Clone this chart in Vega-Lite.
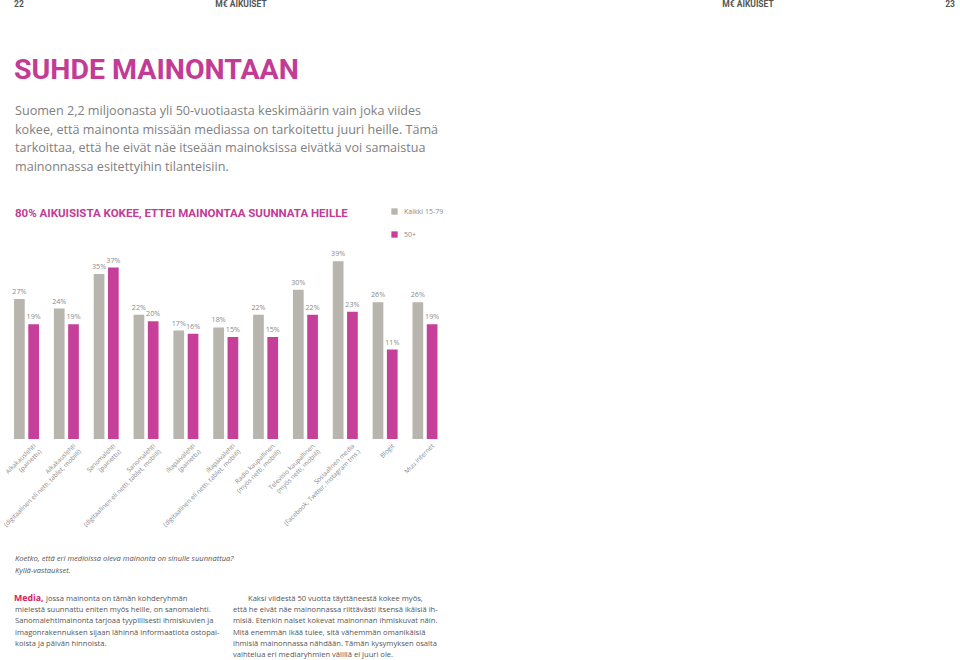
{
  "$schema": "https://vega.github.io/schema/vega-lite/v6.json",
  "width": 960,
  "height": 660,
  "padding": 0,
  "autosize": {"type": "none"},
  "background": "white",
  "config": {"view": {"stroke": null}},
  "datasets": {
    "media": [
      {"media": "Aikakauslehti\n(painettu)", "group": "Kaikki 15-79", "value": 27},
      {"media": "Aikakauslehti\n(painettu)", "group": "50+", "value": 19},
      {"media": "Aikakauslehti\n(digitaalinen eli netti, tablet, mobiili)", "group": "Kaikki 15-79", "value": 24},
      {"media": "Aikakauslehti\n(digitaalinen eli netti, tablet, mobiili)", "group": "50+", "value": 19},
      {"media": "Sanomalehti\n(painettu)", "group": "Kaikki 15-79", "value": 35},
      {"media": "Sanomalehti\n(painettu)", "group": "50+", "value": 37},
      {"media": "Sanomalehti\n(digitaalinen eli netti, tablet, mobiili)", "group": "Kaikki 15-79", "value": 22},
      {"media": "Sanomalehti\n(digitaalinen eli netti, tablet, mobiili)", "group": "50+", "value": 20},
      {"media": "Iltapäivälehti\n(painettu)", "group": "Kaikki 15-79", "value": 17},
      {"media": "Iltapäivälehti\n(painettu)", "group": "50+", "value": 16},
      {"media": "Iltapäivälehti\n(digitaalinen eli netti, tablet, mobiili)", "group": "Kaikki 15-79", "value": 18},
      {"media": "Iltapäivälehti\n(digitaalinen eli netti, tablet, mobiili)", "group": "50+", "value": 15},
      {"media": "Radio kaupallinen\n(myös netti, mobiili)", "group": "Kaikki 15-79", "value": 22},
      {"media": "Radio kaupallinen\n(myös netti, mobiili)", "group": "50+", "value": 15},
      {"media": "Televisio kaupallinen\n(myös netti, mobiili)", "group": "Kaikki 15-79", "value": 30},
      {"media": "Televisio kaupallinen\n(myös netti, mobiili)", "group": "50+", "value": 22},
      {"media": "Sosiaalinen media\n(Facebook, Twitter, Instagram tms.)", "group": "Kaikki 15-79", "value": 39},
      {"media": "Sosiaalinen media\n(Facebook, Twitter, Instagram tms.)", "group": "50+", "value": 23},
      {"media": "Blogit", "group": "Kaikki 15-79", "value": 26},
      {"media": "Blogit", "group": "50+", "value": 11},
      {"media": "Muu internet", "group": "Kaikki 15-79", "value": 26},
      {"media": "Muu internet", "group": "50+", "value": 19}
    ]
  },
  "layer": [
    {
      "data": {"name": "media"},
      "mark": {"type": "bar"},
      "encoding": {
        "x": {"field": "media", "type": "nominal", "sort": null, "axis": null,
              "scale": {"range": [6.6, 444.9], "paddingInner": 0.373, "paddingOuter": 0.1865}},
        "xOffset": {"field": "group", "type": "nominal", "sort": ["Kaikki 15-79", "50+"],
                    "scale": {"paddingInner": 0.25, "paddingOuter": 0}},
        "y": {"field": "value", "type": "quantitative", "axis": null,
              "scale": {"domain": [-17.4, 45], "range": [439, 242.4], "zero": false, "nice": false}},
        "y2": {"datum": -17.4},
        "color": {"field": "group", "type": "nominal",
                  "scale": {"domain": ["Kaikki 15-79", "50+"], "range": ["#b8b4ae", "#c6409a"]},
                  "legend": {"title": null, "orient": "none", "legendX": 391, "legendY": 208,
                             "symbolType": "square", "symbolSize": 40, "symbolStrokeWidth": 0,
                             "labelFontSize": 7, "labelColor": "#8a8a8a", "labelFont": "Open Sans",
                             "labelOffset": 6, "rowPadding": 15}}
      }
    },
    {
      "data": {"name": "media"},
      "transform": [{"calculate": "datum.value + '%'", "as": "label"}],
      "mark": {"type": "text", "dy": -5, "fontSize": 7.2, "font": "Open Sans", "color": "#8a8a8a", "baseline": "alphabetic"},
      "encoding": {
        "x": {"field": "media", "type": "nominal", "sort": null},
        "xOffset": {"field": "group", "type": "nominal", "sort": ["Kaikki 15-79", "50+"]},
        "y": {"field": "value", "type": "quantitative"},
        "text": {"field": "label"}
      }
    },
    {
      "data": {"name": "media"},
      "transform": [{"filter": "datum.group === 'Kaikki 15-79'"}],
      "mark": {"type": "text", "angle": -45, "align": "right", "baseline": "top", "lineBreak": "\n",
               "fontSize": 6.4, "font": "Open Sans", "color": "#8a8a8a", "dx": 1.5, "dy": 7, "lineHeight": 8},
      "encoding": {
        "x": {"field": "media", "type": "nominal", "sort": null},
        "y": {"datum": -17.4},
        "text": {"field": "media"}
      }
    },
    {
      "data": {"values": [{"t": "22"}]},
      "mark": {"type": "text", "x": 14, "y": 4, "align": "left", "baseline": "middle", "fontSize": 8.5, "fontWeight": "bold",
               "font": "Roboto", "color": "#555"},
      "encoding": {"text": {"field": "t"}}
    },
    {
      "data": {"values": [{"t": "M€ AIKUISET"}]},
      "mark": {"type": "text", "x": 241, "y": 4, "align": "center", "baseline": "middle", "fontSize": 8.5, "fontWeight": "bold",
               "font": "Roboto", "color": "#555"},
      "encoding": {"text": {"field": "t"}}
    },
    {
      "data": {"values": [{"t": "M€ AIKUISET"}]},
      "mark": {"type": "text", "x": 748, "y": 4, "align": "center", "baseline": "middle", "fontSize": 8.5, "fontWeight": "bold",
               "font": "Roboto", "color": "#555"},
      "encoding": {"text": {"field": "t"}}
    },
    {
      "data": {"values": [{"t": "23"}]},
      "mark": {"type": "text", "x": 955, "y": 4, "align": "right", "baseline": "middle", "fontSize": 8.5, "fontWeight": "bold",
               "font": "Roboto", "color": "#555"},
      "encoding": {"text": {"field": "t"}}
    },
    {
      "data": {"values": [{"t": "SUHDE MAINONTAAN"}]},
      "mark": {"type": "text", "x": 14, "y": 79, "align": "left", "baseline": "alphabetic", "fontSize": 28.5, "fontWeight": "bold",
               "font": "Roboto", "color": "#c23b95"},
      "encoding": {"text": {"field": "t"}}
    },
    {
      "data": {"values": [{"t": "Suomen 2,2 miljoonasta yli 50-vuotiaasta  keskimäärin vain joka viides\nkokee, että mainonta missään mediassa on tarkoitettu juuri heille. Tämä\ntarkoittaa, että he eivät näe itseään mainoksissa eivätkä voi samaistua\nmainonnassa esitettyihin tilanteisiin."}]},
      "mark": {"type": "text", "x": 15, "y": 115, "align": "left", "baseline": "alphabetic", "lineBreak": "\n", "lineHeight": 18.5,
               "fontSize": 12.6, "font": "Open Sans", "color": "#808080"},
      "encoding": {"text": {"field": "t"}}
    },
    {
      "data": {"values": [{"t": "80% AIKUISISTA KOKEE, ETTEI MAINONTAA SUUNNATA HEILLE"}]},
      "mark": {"type": "text", "x": 15, "y": 217, "align": "left", "baseline": "alphabetic", "fontSize": 11.5, "fontWeight": "bold",
               "font": "Roboto", "color": "#c23b95"},
      "encoding": {"text": {"field": "t"}}
    },
    {
      "data": {"values": [{"t": "Koetko, että eri medioissa oleva mainonta on sinulle suunnattua?\nKyllä-vastaukset."}]},
      "mark": {"type": "text", "x": 15, "y": 561, "align": "left", "baseline": "alphabetic", "lineBreak": "\n", "lineHeight": 12,
               "fontSize": 7.6, "fontStyle": "italic", "font": "Open Sans", "color": "#555"},
      "encoding": {"text": {"field": "t"}}
    },
    {
      "data": {"values": [{"t": "Media,"}]},
      "mark": {"type": "text", "x": 14, "y": 600.5, "align": "left", "baseline": "alphabetic", "fontSize": 8.8, "fontWeight": "bold",
               "font": "Open Sans", "color": "#d8235b"},
      "encoding": {"text": {"field": "t"}}
    },
    {
      "data": {"values": [{"t": "jossa mainonta on tämän kohderyhmän"}]},
      "mark": {"type": "text", "x": 46, "y": 600.5, "align": "left", "baseline": "alphabetic", "fontSize": 7.6, "font": "Open Sans", "color": "#555"},
      "encoding": {"text": {"field": "t"}}
    },
    {
      "data": {"values": [{"t": "mielestä suunnattu eniten myös heille, on sanomalehti.\nSanomalehtimainonta tarjoaa tyypillisesti ihmiskuvien ja\nimagonrakennuksen sijaan lähinnä informaatiota ostopai-\nkoista ja päivän hinnoista."}]},
      "mark": {"type": "text", "x": 15, "y": 611.9, "align": "left", "baseline": "alphabetic", "lineBreak": "\n", "lineHeight": 11.4,
               "fontSize": 7.6, "font": "Open Sans", "color": "#555"},
      "encoding": {"text": {"field": "t"}}
    },
    {
      "data": {"values": [{"t": "Kaksi viidestä 50 vuotta täyttäneestä kokee myös,"}]},
      "mark": {"type": "text", "x": 248, "y": 600.5, "align": "left", "baseline": "alphabetic", "fontSize": 7.6, "font": "Open Sans", "color": "#555"},
      "encoding": {"text": {"field": "t"}}
    },
    {
      "data": {"values": [{"t": "että he eivät näe mainonnassa riittävästi itsensä ikäisiä ih-\nmisiä. Etenkin naiset kokevat mainonnan ihmiskuvat näin.\nMitä enemmän ikää tulee, sitä vähemmän omanikäisiä\nihmisiä mainonnassa nähdään. Tämän kysymyksen osalta\nvaihtelua eri mediaryhmien välillä ei juuri ole."}]},
      "mark": {"type": "text", "x": 233, "y": 611.9, "align": "left", "baseline": "alphabetic", "lineBreak": "\n", "lineHeight": 11.4,
               "fontSize": 7.6, "font": "Open Sans", "color": "#555"},
      "encoding": {"text": {"field": "t"}}
    }
  ]
}
